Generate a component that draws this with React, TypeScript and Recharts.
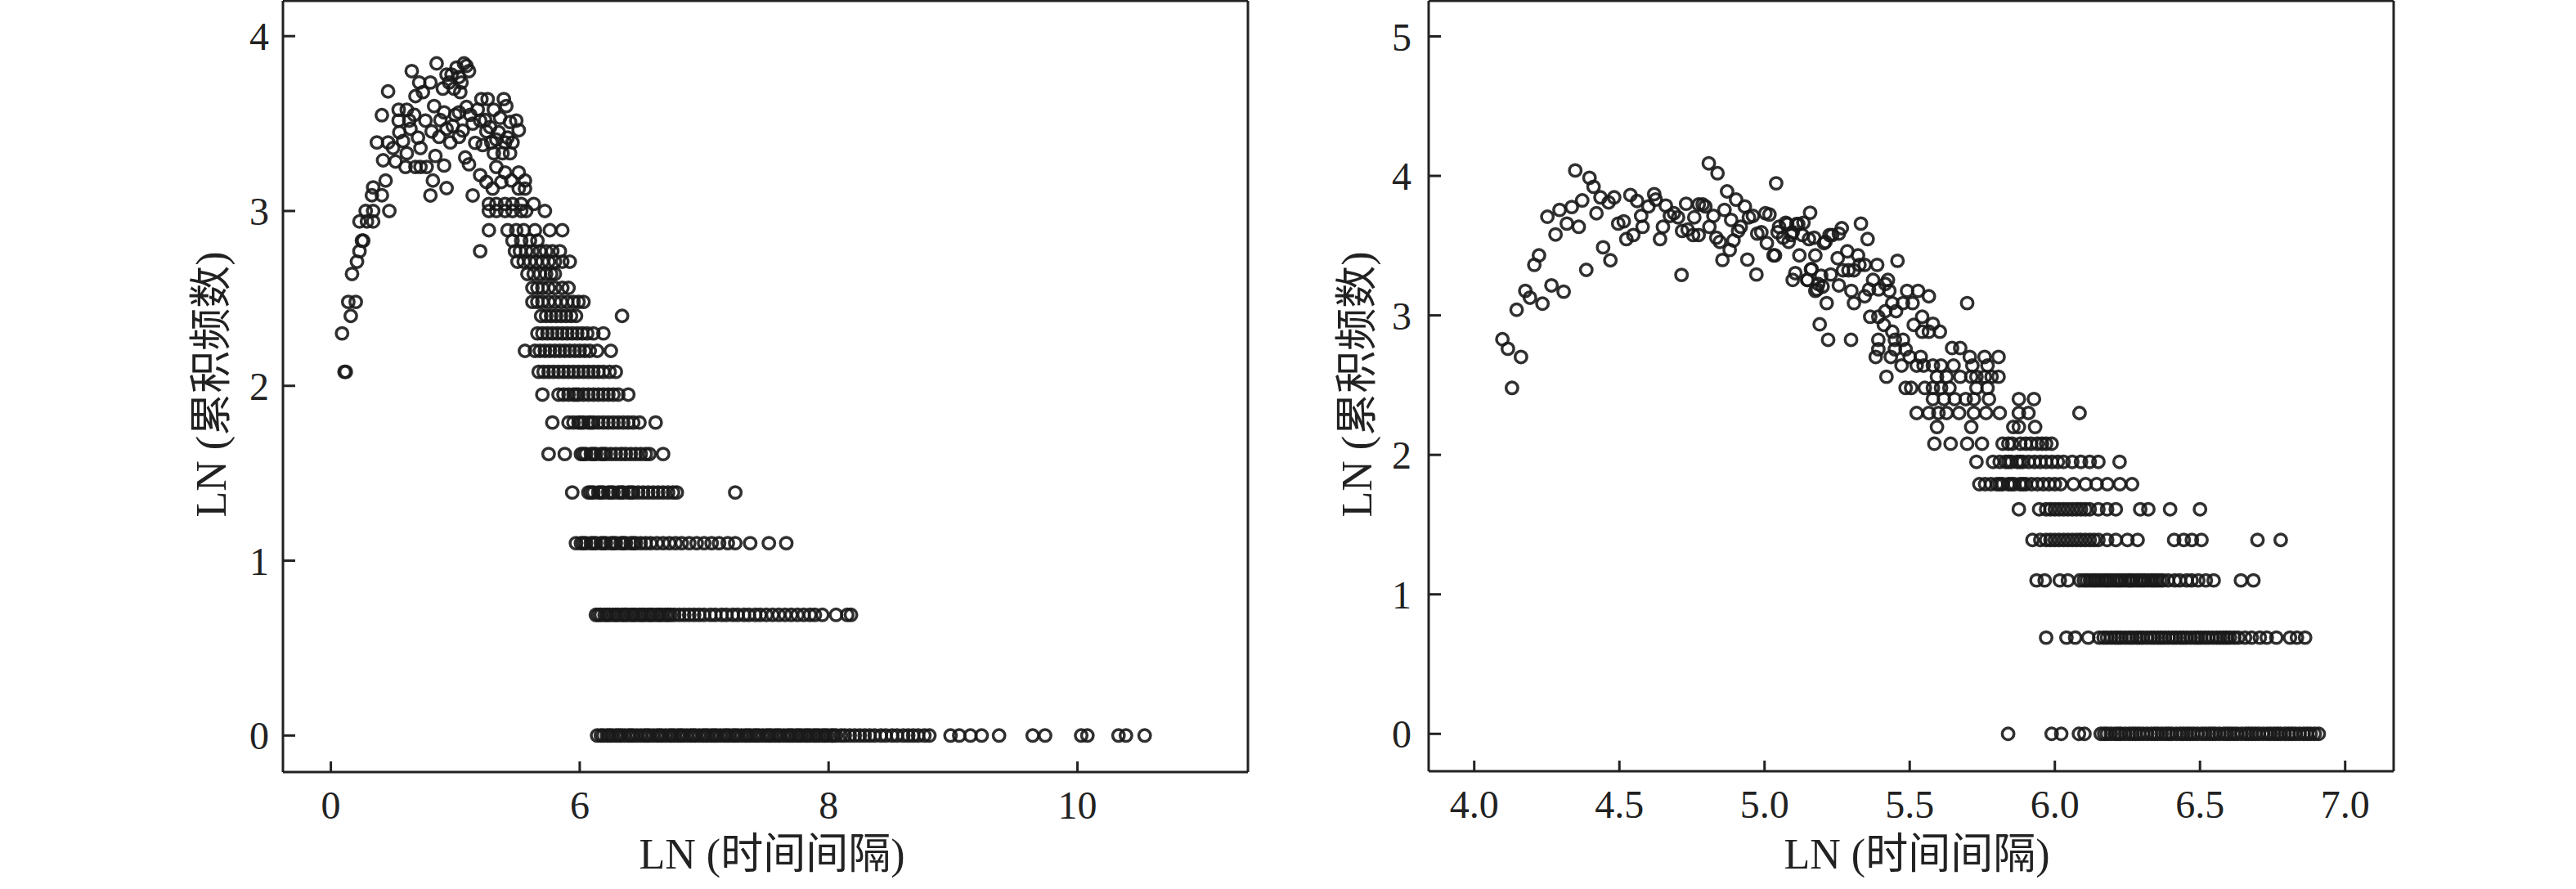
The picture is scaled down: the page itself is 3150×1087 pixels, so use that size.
import { ScatterChart, Scatter, XAxis, YAxis, ReferenceLine } from 'recharts'

// left panel: ticks sit evenly, first one is printed as "0"
const leftXTicks = [4, 6, 8, 10]
const leftXLabels = ['0', '6', '8', '10']
const leftYTicks = [0, 1, 2, 3, 4]

const rightXTicks = [4, 4.5, 5, 5.5, 6, 6.5, 7]
const rightXLabels = ['4.0', '4.5', '5.0', '5.5', '6.0', '6.5', '7.0']
const rightYTicks = [0, 1, 2, 3, 4, 5]

// left panel, rows of equal LN(count)
const leftAt000 = [6.14, 6.17, 6.19, 6.22, 6.24, 6.26, 6.29, 6.31, 6.33, 6.36, 6.39, 6.41, 6.43, 6.46, 6.49, 6.52, 6.54, 6.56, 6.59, 6.62, 6.64, 6.66, 6.69, 6.72, 6.74, 6.76, 6.79, 6.81, 6.83, 6.86, 6.89, 6.91, 6.93, 6.96, 6.99, 7.01, 7.03, 7.06, 7.08, 7.1, 7.13, 7.16, 7.18, 7.2, 7.23, 7.25, 7.27, 7.3, 7.33, 7.35, 7.37, 7.4, 7.42, 7.44, 7.47, 7.5, 7.52, 7.54, 7.57, 7.59, 7.61, 7.64, 7.67, 7.69, 7.71, 7.74, 7.76, 7.78, 7.81, 7.83, 7.85, 7.88, 7.9, 7.92, 7.95, 7.97, 7.99, 8.02, 8.04, 8.06, 8.1, 8.13, 8.17, 8.21, 8.25, 8.29, 8.33, 8.37, 8.42, 8.46, 8.51, 8.55, 8.6, 8.64, 8.68, 8.72, 8.77, 8.81, 8.98, 9.05, 9.14, 9.23, 9.37, 9.64, 9.74, 10.03, 10.08, 10.33, 10.39, 10.54]
const leftAt069 = [6.13, 6.15, 6.17, 6.2, 6.22, 6.24, 6.27, 6.29, 6.31, 6.34, 6.36, 6.38, 6.41, 6.43, 6.45, 6.48, 6.5, 6.52, 6.55, 6.57, 6.59, 6.62, 6.64, 6.66, 6.69, 6.71, 6.73, 6.76, 6.8, 6.84, 6.88, 6.92, 6.96, 7.0, 7.05, 7.09, 7.14, 7.18, 7.23, 7.27, 7.32, 7.36, 7.41, 7.45, 7.5, 7.55, 7.6, 7.65, 7.7, 7.75, 7.8, 7.85, 7.89, 7.95, 8.06, 8.15, 8.18]
const leftAt110 = [5.97, 6.01, 6.03, 6.05, 6.09, 6.11, 6.13, 6.17, 6.19, 6.21, 6.25, 6.27, 6.29, 6.33, 6.35, 6.37, 6.41, 6.43, 6.45, 6.49, 6.53, 6.57, 6.62, 6.67, 6.72, 6.77, 6.82, 6.88, 6.94, 7.0, 7.06, 7.12, 7.19, 7.25, 7.37, 7.52, 7.66]
const leftAt139 = [5.94, 6.07, 6.09, 6.11, 6.15, 6.17, 6.19, 6.23, 6.25, 6.27, 6.31, 6.33, 6.35, 6.39, 6.41, 6.43, 6.47, 6.51, 6.55, 6.59, 6.63, 6.67, 6.71, 6.75, 6.78, 7.25]
const leftAt161 = [5.75, 5.88, 6.01, 6.03, 6.05, 6.09, 6.11, 6.13, 6.17, 6.19, 6.21, 6.25, 6.29, 6.33, 6.37, 6.41, 6.45, 6.49, 6.53, 6.56, 6.67]
const leftAt179 = [5.78, 5.91, 5.95, 5.99, 6.01, 6.03, 6.07, 6.09, 6.11, 6.15, 6.19, 6.23, 6.27, 6.31, 6.35, 6.39, 6.43, 6.48, 6.61]
const leftAt195 = [5.7, 5.83, 5.87, 5.91, 5.95, 5.97, 5.99, 6.03, 6.07, 6.11, 6.15, 6.19, 6.23, 6.27, 6.31, 6.39]
const leftAt208 = [4.11, 4.12, 5.67, 5.71, 5.75, 5.79, 5.83, 5.87, 5.91, 5.95, 5.99, 6.03, 6.07, 6.11, 6.15, 6.19, 6.24, 6.29]
const leftAt220 = [5.56, 5.64, 5.68, 5.72, 5.76, 5.8, 5.84, 5.88, 5.92, 5.96, 6.0, 6.04, 6.08, 6.14, 6.25]
const leftAt230 = [4.09, 5.66, 5.7, 5.74, 5.78, 5.82, 5.86, 5.9, 5.94, 5.98, 6.02, 6.06, 6.11, 6.19]
const leftAt240 = [4.16, 5.69, 5.73, 5.77, 5.81, 5.85, 5.89, 5.93, 5.97, 6.34]
const leftAt248 = [4.14, 4.2, 5.62, 5.66, 5.7, 5.75, 5.8, 5.85, 5.9, 5.95, 5.99, 6.03]
const leftAt256 = [5.62, 5.66, 5.7, 5.75, 5.8, 5.86, 5.91]
const leftAt264 = [4.17, 5.58, 5.63, 5.68, 5.73, 5.77, 5.8]
const leftAt271 = [4.21, 5.5, 5.55, 5.6, 5.65, 5.7, 5.75, 5.8, 5.86, 5.92]
const leftAt277 = [4.23, 5.2, 5.48, 5.52, 5.57, 5.62, 5.68, 5.73, 5.78, 5.84]
const leftAt283 = [4.25, 4.26, 5.46, 5.53, 5.6, 5.66]
const leftAt289 = [5.27, 5.42, 5.49, 5.55, 5.64, 5.76, 5.86]
const leftAt294 = [4.23, 4.29, 4.34]
const leftAt300 = [4.28, 4.34, 4.47, 5.27, 5.33, 5.4, 5.46, 5.53, 5.57, 5.72]
const leftAt304 = [5.27, 5.33, 5.4, 5.46, 5.53, 5.63]

// left panel, scattered top of the hump [x, y]
const leftCloud: [number, number][] = [
  [4.33, 3.09], [4.41, 3.09], [4.34, 3.135], [4.44, 3.174], [4.37, 3.392], [4.46, 3.392], [4.5, 3.36],
  [4.42, 3.29], [4.52, 3.283], [4.41, 3.548], [4.46, 3.684], [4.545, 3.579], [4.61, 3.579], [4.545, 3.517],
  [4.63, 3.517], [4.65, 3.8], [4.71, 3.735], [4.8, 3.735], [4.85, 3.844], [4.68, 3.657], [4.74, 3.68],
  [4.6, 3.252], [4.68, 3.252], [4.72, 3.252], [4.77, 3.252], [4.61, 3.33], [4.72, 3.36], [4.76, 3.517],
  [4.81, 3.455], [4.82, 3.174], [4.8, 3.089], [4.93, 3.131], [4.83, 3.6], [4.91, 3.564], [4.87, 3.424],
  [4.96, 3.392], [4.84, 3.315], [4.91, 3.26], [4.95, 3.735], [4.99, 3.7], [5.05, 3.735], [5.09, 3.83],
  [5.11, 3.8], [5.07, 3.844], [4.97, 3.78], [5.03, 3.766], [4.98, 3.486], [5.03, 3.424], [5.03, 3.564],
  [5.09, 3.595], [5.08, 3.306], [5.11, 3.267], [5.14, 3.089], [5.14, 3.5], [5.18, 3.58], [5.21, 3.64],
  [5.26, 3.64], [5.2, 3.517], [5.25, 3.455], [5.31, 3.579], [5.16, 3.39], [5.22, 3.377], [5.29, 3.392],
  [5.31, 3.33], [5.38, 3.33], [5.44, 3.33], [5.39, 3.64], [5.41, 3.6], [5.36, 3.533], [5.44, 3.509],
  [5.49, 3.517], [5.51, 3.462], [5.33, 3.408], [5.4, 3.392], [5.46, 3.392], [5.33, 3.252], [5.4, 3.22],
  [5.51, 3.22], [5.56, 3.174], [5.2, 3.205], [5.25, 3.166], [5.3, 3.128], [5.37, 3.166], [5.45, 3.174],
  [5.51, 3.128], [5.56, 3.128], [4.55, 3.45], [4.58, 3.4], [4.64, 3.47], [4.67, 3.55], [4.7, 3.42],
  [4.88, 3.52], [4.93, 3.47], [5.0, 3.55], [5.06, 3.46], [5.12, 3.55], [5.24, 3.52], [5.28, 3.48],
  [5.35, 3.45], [5.42, 3.42], [4.9, 3.7], [4.93, 3.78], [5.01, 3.82], [5.04, 3.68],
]

// right panel rows
const rightAt000 = [5.839, 5.989, 6.022, 6.083, 6.102, 6.158, 6.17, 6.18, 6.193, 6.207, 6.218, 6.228, 6.242, 6.256, 6.268, 6.279, 6.291, 6.304, 6.318, 6.332, 6.344, 6.355, 6.368, 6.381, 6.392, 6.403, 6.418, 6.432, 6.443, 6.455, 6.466, 6.478, 6.491, 6.506, 6.518, 6.531, 6.542, 6.553, 6.567, 6.582, 6.593, 6.604, 6.616, 6.628, 6.643, 6.657, 6.668, 6.679, 6.691, 6.703, 6.717, 6.731, 6.743, 6.756, 6.767, 6.778, 6.792, 6.806, 6.817, 6.829, 6.843, 6.857, 6.869, 6.881, 6.895, 6.909]
const rightAt069 = [5.97, 6.04, 6.07, 6.115, 6.153, 6.168, 6.18, 6.194, 6.207, 6.218, 6.229, 6.243, 6.256, 6.268, 6.281, 6.292, 6.303, 6.317, 6.331, 6.343, 6.356, 6.367, 6.379, 6.392, 6.406, 6.418, 6.431, 6.442, 6.454, 6.468, 6.482, 6.493, 6.504, 6.517, 6.529, 6.543, 6.557, 6.569, 6.581, 6.592, 6.603, 6.618, 6.632, 6.655, 6.678, 6.706, 6.73, 6.763, 6.81, 6.834, 6.862]
const rightAt110 = [5.937, 5.965, 6.017, 6.045, 6.087, 6.1, 6.11, 6.121, 6.132, 6.141, 6.151, 6.162, 6.172, 6.181, 6.19, 6.201, 6.212, 6.221, 6.23, 6.242, 6.253, 6.261, 6.27, 6.281, 6.292, 6.301, 6.31, 6.322, 6.333, 6.342, 6.351, 6.362, 6.372, 6.39, 6.413, 6.43, 6.454, 6.471, 6.494, 6.52, 6.547, 6.641, 6.684]
const rightAt139 = [5.923, 5.95, 5.97, 5.985, 6.0, 6.015, 6.03, 6.045, 6.06, 6.075, 6.09, 6.105, 6.12, 6.135, 6.15, 6.18, 6.21, 6.25, 6.285, 6.411, 6.444, 6.472, 6.505, 6.698, 6.778]
const rightAt161 = [5.876, 5.946, 5.97, 5.985, 6.0, 6.015, 6.03, 6.045, 6.06, 6.075, 6.09, 6.105, 6.12, 6.15, 6.18, 6.21, 6.294, 6.322, 6.397, 6.5]
const rightAt179 = [5.74, 5.76, 5.78, 5.8, 5.81, 5.82, 5.84, 5.85, 5.86, 5.88, 5.89, 5.9, 5.92, 5.94, 5.96, 5.98, 6.0, 6.02, 6.064, 6.106, 6.144, 6.181, 6.224, 6.266]
const rightAt195 = [5.73, 5.787, 5.81, 5.83, 5.84, 5.85, 5.87, 5.88, 5.89, 5.91, 5.93, 5.95, 5.97, 5.99, 6.01, 6.03, 6.06, 6.09, 6.12, 6.15, 6.223]
const rightAt208 = [5.585, 5.641, 5.698, 5.749, 5.82, 5.84, 5.853, 5.881, 5.9, 5.918, 5.94, 5.956, 5.97, 5.989]
const rightAt220 = [5.594, 5.712, 5.857, 5.876, 5.932]
const rightAt230 = [5.524, 5.566, 5.599, 5.627, 5.67, 5.721, 5.763, 5.81, 5.876, 5.909, 6.085]
const rightAt240 = [5.58, 5.618, 5.655, 5.693, 5.721, 5.773, 5.876, 5.928]
const rightAt248 = [5.486, 5.505, 5.552, 5.58, 5.608, 5.637, 5.73, 5.768]
const rightAt256 = [5.42, 5.594, 5.627, 5.674, 5.712, 5.73, 5.759, 5.782, 5.806]
const rightAt264 = [5.472, 5.524, 5.548, 5.58, 5.608, 5.651, 5.716, 5.768]

// right panel, scattered part [x, y]
const rightCloud: [number, number][] = [
  [4.097, 2.829], [4.116, 2.761], [4.161, 2.702], [4.13, 2.48], [4.146, 3.04], [4.176, 3.176], [4.192, 3.127],
  [4.235, 3.084], [4.266, 3.215], [4.308, 3.17], [4.207, 3.362], [4.223, 3.43], [4.28, 3.58], [4.252, 3.707],
  [4.294, 3.756], [4.319, 3.658], [4.336, 3.777], [4.36, 3.635], [4.372, 3.824], [4.348, 4.039], [4.397, 3.986],
  [4.411, 3.922], [4.435, 3.846], [4.421, 3.732], [4.386, 3.326], [4.444, 3.488], [4.469, 3.395], [4.463, 3.81],
  [4.482, 3.846], [4.496, 3.658], [4.515, 3.674], [4.524, 3.547], [4.548, 3.576], [4.538, 3.863], [4.561, 3.82],
  [4.575, 3.713], [4.58, 3.635], [4.6, 3.781], [4.62, 3.869], [4.625, 3.83], [4.64, 3.547], [4.65, 3.635],
  [4.66, 3.787], [4.674, 3.713], [4.688, 3.732], [4.702, 3.703], [4.714, 3.29], [4.716, 3.605], [4.73, 3.8],
  [4.735, 3.615], [4.754, 3.576], [4.773, 3.576], [4.758, 3.703], [4.773, 3.795], [4.787, 3.795], [4.796, 3.781],
  [4.808, 4.09], [4.838, 4.019], [4.81, 3.635], [4.824, 3.713], [4.834, 3.557], [4.846, 3.527], [4.855, 3.397],
  [4.862, 3.756], [4.871, 3.889], [4.88, 3.469], [4.885, 3.684], [4.902, 3.83], [4.893, 3.537], [4.909, 3.605],
  [4.918, 3.635], [4.932, 3.781], [4.946, 3.703], [4.96, 3.713], [4.941, 3.4], [4.972, 3.293], [4.975, 3.586],
  [4.989, 3.596], [5.003, 3.732], [5.017, 3.723], [5.008, 3.518], [5.031, 3.43], [5.04, 3.947], [5.05, 3.635],
  [5.064, 3.557], [5.078, 3.654], [5.097, 3.596], [5.116, 3.654], [5.13, 3.576], [5.083, 3.527], [5.097, 3.254],
  [5.106, 3.303], [5.12, 3.43], [5.147, 3.254], [5.157, 3.736], [5.16, 3.33], [5.171, 3.557], [5.175, 3.43],
  [5.175, 3.176], [5.185, 3.225], [5.195, 3.284], [5.205, 3.518], [5.19, 2.936], [5.214, 3.088], [5.219, 2.825],
  [5.224, 3.576], [5.073, 3.664], [5.11, 3.654], [5.134, 3.664], [5.045, 3.596], [5.092, 3.576], [5.153, 3.547],
  [5.21, 3.527], [5.233, 3.576], [5.256, 3.586], [5.266, 3.625], [5.332, 3.658], [5.355, 3.547], [5.036, 3.43],
  [5.148, 3.254], [5.162, 3.332], [5.181, 3.186], [5.2, 3.206], [5.228, 3.293], [5.252, 3.41], [5.285, 3.459],
  [5.256, 3.215], [5.27, 3.323], [5.289, 3.323], [5.308, 3.323], [5.327, 3.362], [5.345, 3.362], [5.299, 3.176],
  [5.308, 3.088], [5.345, 3.137], [5.36, 3.186], [5.322, 3.43], [5.388, 3.362], [5.374, 3.254], [5.393, 3.186],
  [5.416, 3.225], [5.425, 3.254], [5.458, 3.391], [5.43, 3.176], [5.491, 3.176], [5.529, 3.176], [5.566, 3.137],
  [5.44, 3.088], [5.477, 3.088], [5.51, 3.088], [5.698, 3.088], [5.364, 2.99], [5.392, 2.99], [5.416, 3.03],
  [5.411, 2.932], [5.453, 3.03], [5.543, 2.99], [5.58, 2.94], [5.514, 2.932], [5.543, 2.883], [5.566, 2.883],
  [5.604, 2.883], [5.44, 2.883], [5.298, 2.825], [5.392, 2.825], [5.449, 2.825], [5.477, 2.825], [5.646, 2.766],
  [5.674, 2.766], [5.392, 2.757], [5.449, 2.757], [5.486, 2.757], [5.383, 2.702], [5.435, 2.702], [5.5, 2.702],
  [5.538, 2.702], [5.707, 2.702], [5.758, 2.702], [5.806, 2.702],
]

const leftRows: [number, number[]][] = [
  [0, leftAt000], [0.69, leftAt069], [1.1, leftAt110], [1.39, leftAt139], [1.61, leftAt161],
  [1.79, leftAt179], [1.95, leftAt195], [2.08, leftAt208], [2.2, leftAt220], [2.3, leftAt230],
  [2.4, leftAt240], [2.48, leftAt248], [2.56, leftAt256], [2.64, leftAt264], [2.71, leftAt271],
  [2.77, leftAt277], [2.83, leftAt283], [2.89, leftAt289], [2.94, leftAt294], [3.0, leftAt300], [3.04, leftAt304],
]
const rightRows: [number, number[]][] = [
  [0, rightAt000], [0.69, rightAt069], [1.1, rightAt110], [1.39, rightAt139], [1.61, rightAt161],
  [1.79, rightAt179], [1.95, rightAt195], [2.08, rightAt208], [2.2, rightAt220], [2.3, rightAt230],
  [2.4, rightAt240], [2.48, rightAt248], [2.56, rightAt256], [2.64, rightAt264],
]

const toPoints = (rows: [number, number[]][], cloud: [number, number][]) => [
  ...rows.flatMap(([y, xs]) => xs.map(x => ({ x, y }))),
  ...cloud.map(([x, y]) => ({ x, y })),
]
const leftData = toPoints(leftRows, leftCloud)
const rightData = toPoints(rightRows, rightCloud)

const INK = '#222'
const FONT = '"Liberation Serif", "Times New Roman", "Noto Sans CJK SC", serif'
const tickFont = { fontSize: 48, fill: INK, fontFamily: FONT }
const line = { stroke: INK, strokeWidth: 3 }

function Ring(props: any) {
  const { cx, cy } = props
  if (cx == null || cy == null) return null
  return <circle cx={cx} cy={cy} r={7.2} fill="none" stroke="#1a1a1a" strokeOpacity={0.9} strokeWidth={3.5} />
}

interface PanelProps {
  data: { x: number; y: number }[]
  xDomain: [number, number]
  yDomain: [number, number]
  xTicks: number[]
  xLabels: string[]
  yTicks: number[]
  yWidth: number
  right: number
  xHeight: number
  yMargin: number
}

function Panel({ data, xDomain, yDomain, xTicks, xLabels, yTicks, yWidth, right, xHeight, yMargin }: PanelProps) {
  return (
    <ScatterChart width={1575} height={1087} margin={{ top: 1, right, bottom: 0, left: 0 }}>
      <XAxis
        xAxisId="b" type="number" dataKey="x" domain={xDomain} allowDataOverflow ticks={xTicks} interval={0}
        tickFormatter={(v: number) => xLabels[xTicks.indexOf(v)] ?? ''}
        height={xHeight} tickSize={-13} tickMargin={36} axisLine={line} tickLine={line} tick={tickFont}
      />
      <YAxis
        yAxisId="l" type="number" dataKey="y" domain={yDomain} allowDataOverflow ticks={yTicks} interval={0}
        width={yWidth} tickSize={-15} tickMargin={yMargin} axisLine={line} tickLine={line} tick={tickFont}
      />
      <ReferenceLine xAxisId="b" yAxisId="l" y={yDomain[1]} stroke={INK} strokeWidth={3} />
      <ReferenceLine xAxisId="b" yAxisId="l" x={xDomain[1]} stroke={INK} strokeWidth={3} />
      <Scatter xAxisId="b" yAxisId="l" data={data} shape={Ring} isAnimationActive={false} />
    </ScatterChart>
  )
}

export default function App() {
  return (
    <div style={{ position: 'absolute', left: 0, top: 0, width: 3150, height: 1087, background: '#fff' }}>
      <div style={{ position: 'absolute', left: 0, top: 0 }}>
        <Panel
          data={leftData} xDomain={[3.615, 11.37]} yDomain={[-0.209, 4.202]}
          xTicks={leftXTicks} xLabels={leftXLabels} yTicks={leftYTicks}
          yWidth={346} right={49} xHeight={143} yMargin={32}
        />
      </div>
      <div style={{ position: 'absolute', left: 1575, top: 0 }}>
        <Panel
          data={rightData} xDomain={[3.843, 7.167]} yDomain={[-0.268, 5.255]}
          xTicks={rightXTicks} xLabels={rightXLabels} yTicks={rightYTicks}
          yWidth={172} right={223} xHeight={144} yMargin={36}
        />
      </div>
      <svg width={3150} height={1087} style={{ position: 'absolute', left: 0, top: 0, pointerEvents: 'none' }}>
        <g fontFamily={FONT} fontSize={52} fill={INK} textAnchor="middle">
          <text x={944} y={1062}>LN (时间间隔)</text>
          <text x={2344} y={1062}>LN (时间间隔)</text>
          <text transform="translate(276,470) rotate(-90)">LN (累积频数)</text>
          <text transform="translate(1677,470) rotate(-90)">LN (累积频数)</text>
        </g>
      </svg>
    </div>
  )
}
